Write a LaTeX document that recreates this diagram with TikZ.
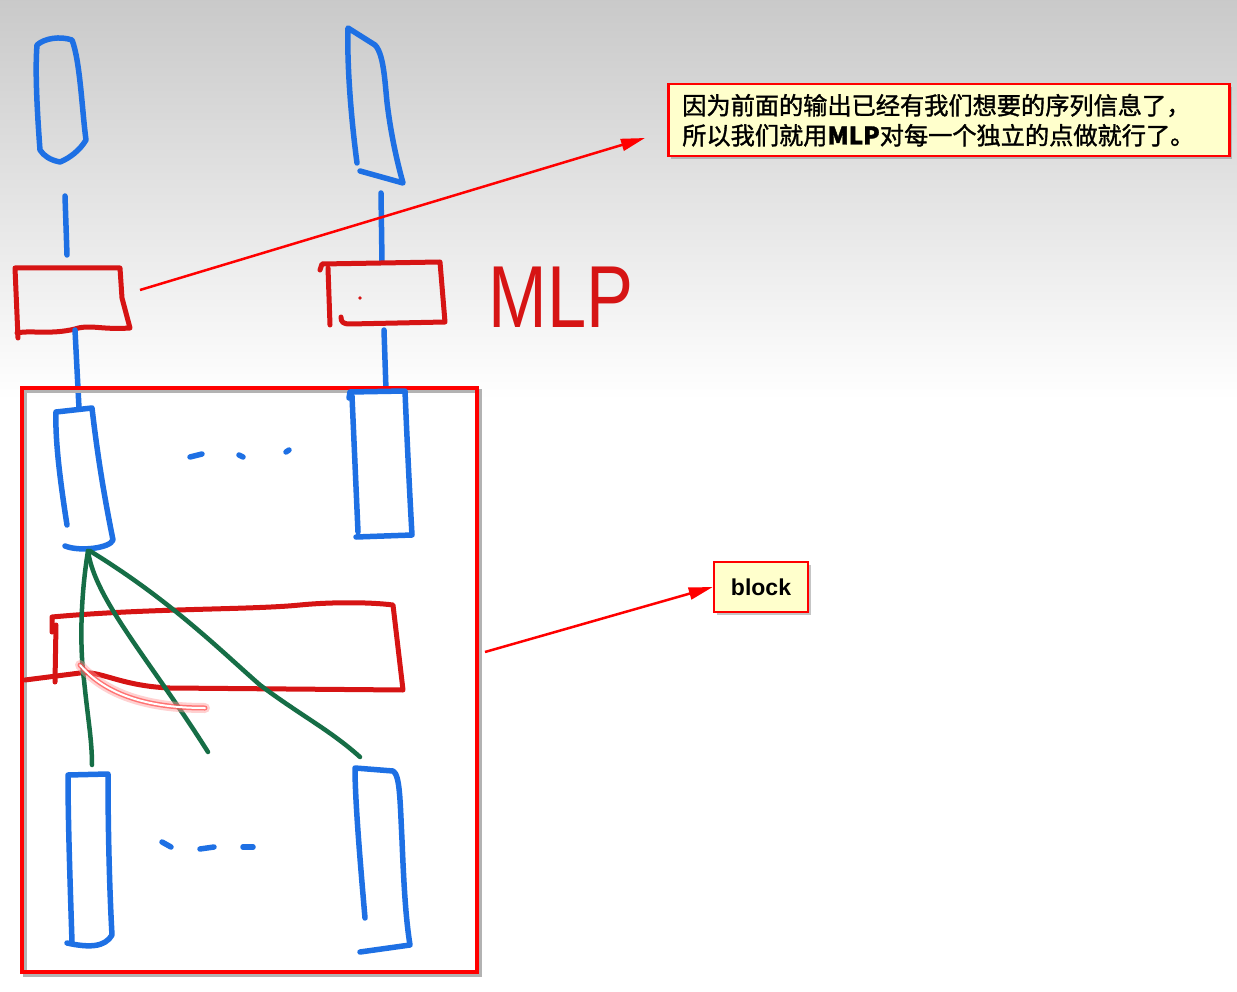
\documentclass[tikz,border=0pt]{standalone}
\usepackage{fontspec}
\setmainfont{Liberation Sans}
\newfontfamily\cjk{Noto Sans CJK SC}[FakeBold=1.4]
\usetikzlibrary{positioning,arrows.meta,shadows}

\definecolor{penblue}{RGB}{30,112,228}
\definecolor{penred}{RGB}{214,20,20}
\definecolor{pengreen}{RGB}{22,110,70}
\definecolor{notefill}{RGB}{255,255,204}

\begin{document}
\begin{tikzpicture}[x=1pt,y=1pt,yscale=-1,xscale=1,
    bluepen/.style={draw=penblue,line width=5.5,line cap=round,line join=round},
    redpen/.style={draw=penred,line width=5,line cap=round,line join=round},
    greenpen/.style={draw=pengreen,line width=4.5,line cap=round},
    note/.style={draw=red,line width=2.5,fill=notefill,inner sep=0pt,
        drop shadow={shadow xshift=3pt,shadow yshift=-3pt,opacity=0.45}},
    pointer/.style={draw=red,line width=2.5,-{Triangle[length=24pt,width=12pt]}}]
    \useasboundingbox (0,0) rectangle (1237,992);
    \fill[white] (0,0) rectangle (1237,992);
    \shade[top color=gray!42,bottom color=white] (0,0) rectangle (1237,400);

    % top outputs
    \draw[bluepen] (40,150) .. controls (37,110) and (35,70) .. (37,45) .. controls (45,38) and (60,36) .. (72,40) .. controls (80,60) and (82,110) .. (86,140) .. controls (80,150) and (70,158) .. (60,162) .. controls (50,160) and (44,156) .. (40,150);
    \draw[bluepen] (65,196) -- (67,255);
    \draw[bluepen] (357,163) .. controls (350,110) and (347,60) .. (348,28) -- (375,45) .. controls (385,55) and (385,90) .. (388,110) .. controls (392,140) and (398,165) .. (403,183) -- (360,171);
    \draw[bluepen] (381,193) -- (382,262);

    % MLP boxes
    \draw[redpen] (18,338) -- (15,268) -- (120,268) -- (122,298) -- (130,328) .. controls (100,330) and (90,324) .. (75,329) .. controls (50,335) and (30,330) .. (17,333);
    \draw[redpen] (320,270) -- (322,264) -- (440,262) -- (445,322) -- (350,324) .. controls (343,324) and (341,322) .. (341,317);
    \draw[redpen] (328,268) -- (330,325);
    \fill[penred] (360,298) circle (1.8);
    \node[text=penred,font=\fontsize{88}{88}\selectfont,inner sep=0pt] (mlp) at (561,297) {\scalebox{0.8}[1]{MLP}};
    \draw[bluepen] (75,330) -- (79,408);
    \draw[bluepen] (384,330) -- (386,390);

    % block
    \draw[black!30,line width=3.5] (25,391) rectangle (480,975);
    \draw[red,line width=3.5] (22,388) rectangle (477,972);

    \draw[bluepen] (67,525) .. controls (60,480) and (55,440) .. (56,412) -- (92,408) .. controls (98,460) and (105,500) .. (113,540) .. controls (110,548) and (80,552) .. (65,546);
    \draw[bluepen] (349,398) -- (350,392) -- (405,391) .. controls (407,440) and (410,500) .. (412,535) -- (356,537);
    \draw[bluepen] (352,396) -- (358,532);
    \draw[bluepen] (190,457) -- (202,454);
    \draw[bluepen] (239,455) -- (243,457);
    \draw[bluepen] (286,452) -- (289,450);

    \draw[redpen] (52,632) -- (52,617) .. controls (150,608) and (250,610) .. (300,605) .. controls (330,602) and (370,602) .. (393,605) -- (403,690) -- (170,688) .. controls (120,686) and (100,670) .. (80,673) -- (25,680);
    \draw[redpen] (56,625) -- (55,682);

    \draw[greenpen] (88,551) .. controls (80,600) and (80,650) .. (84,680) .. controls (88,720) and (92,740) .. (92,765);
    \draw[greenpen] (88,551) .. controls (95,600) and (150,660) .. (208,752);
    \draw[greenpen] (90,551) .. controls (170,600) and (220,650) .. (260,685) .. controls (300,715) and (330,730) .. (360,757);

    \draw[red!40,line width=10,opacity=0.45,line cap=round] (80,665) .. controls (110,700) and (160,708) .. (205,708);
    \draw[red!70,line width=5,opacity=0.7,line cap=round] (80,665) .. controls (110,700) and (160,708) .. (205,708);
    \draw[white,line width=2,line cap=round] (80,665) .. controls (110,700) and (160,708) .. (205,708);

    \draw[bluepen] (72,942) .. controls (70,880) and (68,820) .. (68,775) -- (108,774) .. controls (108,840) and (110,900) .. (112,935) .. controls (105,947) and (90,948) .. (67,943);
    \draw[bluepen] (365,918) .. controls (360,860) and (355,800) .. (355,768) -- (393,771) .. controls (400,775) and (400,800) .. (402,840) .. controls (404,890) and (406,920) .. (410,945) -- (360,952);
    \draw[bluepen] (162,842) -- (171,847);
    \draw[bluepen] (200,849) -- (214,847);
    \draw[bluepen] (243,847) -- (253,847);

    % callouts
    \node[note,anchor=north west,text width=533pt,inner xsep=14pt,minimum height=72pt,align=left,
        font=\cjk\fontsize{24.2}{30}\selectfont] (note) at (667,83)
        {因为前面的输出已经有我们想要的序列信息了，\\所以我们就用{\bfseries MLP}对每一个独立的点做就行了。};
    \node[note,minimum width=94pt,minimum height=50pt,font=\bfseries\fontsize{23}{26}\selectfont] (blocknote) at (761,587) {block};

    \coordinate (fromA) at (140,290);
    \coordinate (tipA) at (645,138);
    \coordinate (fromB) at (485,652);
    \draw[pointer] (fromA) -- (tipA);
    \draw[pointer] (fromB) -- (blocknote.west);
\end{tikzpicture}
\end{document}
